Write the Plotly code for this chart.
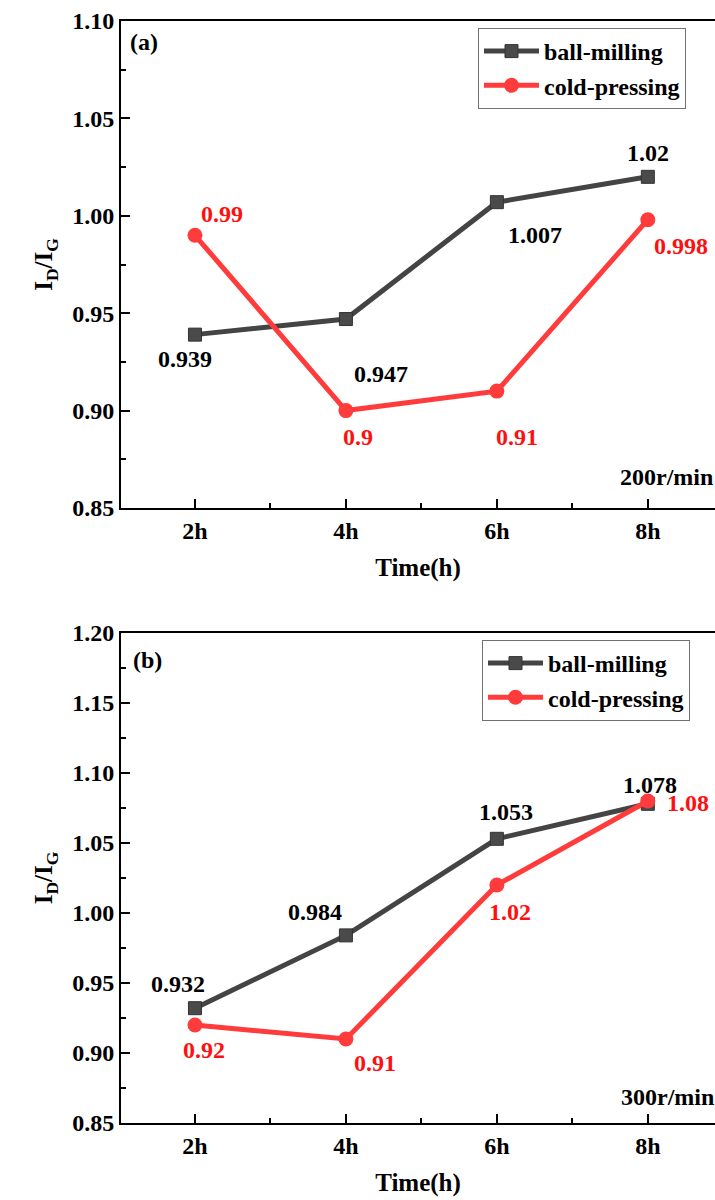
import plotly.graph_objects as go

# ---- data ----
time_vals = [2, 4, 6, 8]
time_labels = ["2h", "4h", "6h", "8h"]

a_ball = [0.939, 0.947, 1.007, 1.02]
a_cold = [0.99, 0.9, 0.91, 0.998]
b_ball = [0.932, 0.984, 1.053, 1.078]
b_cold = [0.92, 0.91, 1.02, 1.08]

series_names = ["ball-milling", "cold-pressing"]
panel_tags = ["(a)", "(b)"]
panel_speed = ["200r/min", "300r/min"]

# ---- style ----
FONT = "'Liberation Serif', 'Times New Roman', Times, serif"
GRAY = "#444444"
RED = "#ff3b3b"
LBL_RED = "#ff1010"
FS = 24

# label offsets (px, x right, y up) for each point
a_ball_off = [(-10, -24), (35, -55), (38, -33), (0, 24)]
a_cold_off = [(27, 21), (12, -26), (20, -46), (33, -26)]
b_ball_off = [(-17, 24), (-31, 23), (9, 27), (2, 19)]
b_cold_off = [(9, -25), (29, -24), (13, -27), (40, -2)]

W, H = 715, 1200
x_dom = [121 / W, 1.0]
top_dom = [1 - 508 / H, 1 - 21 / H]
bot_dom = [1 - 1123 / H, 1 - 633 / H]
x_range = [1.02, 8.89]

fig = go.Figure()

def add_series(xa, ya, legend, ball, cold):
    fig.add_trace(go.Scatter(
        x=time_vals, y=ball, name=series_names[0], xaxis=xa, yaxis=ya,
        legend=legend, mode="lines+markers",
        line=dict(color=GRAY, width=5),
        marker=dict(symbol="square", size=13, color="#4a4a4a",
                    line=dict(color="#333333", width=1)),
    ))
    fig.add_trace(go.Scatter(
        x=time_vals, y=cold, name=series_names[1], xaxis=xa, yaxis=ya,
        legend=legend, mode="lines+markers",
        line=dict(color=RED, width=5),
        marker=dict(symbol="circle", size=15, color=RED),
    ))

add_series("x", "y", "legend", a_ball, a_cold)
add_series("x2", "y2", "legend2", b_ball, b_cold)

def add_labels(xr, yr, vals, offs, color):
    for xv, v, (dx, dy) in zip(time_vals, vals, offs):
        fig.add_annotation(
            x=xv, y=v, xref=xr, yref=yr, text=str(v), showarrow=False,
            xshift=dx, yshift=dy,
            font=dict(family=FONT, size=FS, color=color, weight="bold"),
        )

add_labels("x", "y", a_ball, a_ball_off, "black")
add_labels("x", "y", a_cold, a_cold_off, LBL_RED)
add_labels("x2", "y2", b_ball, b_ball_off, "black")
add_labels("x2", "y2", b_cold, b_cold_off, LBL_RED)

tag_font = dict(family=FONT, size=FS, color="black", weight="bold")
fig.add_annotation(x=128 / W, y=1 - 42 / H, xref="paper", yref="paper",
                   text=panel_tags[0], showarrow=False, xanchor="left",
                   yanchor="middle", font=tag_font)
fig.add_annotation(x=131 / W, y=1 - 660 / H, xref="paper", yref="paper",
                   text=panel_tags[1], showarrow=False, xanchor="left",
                   yanchor="middle", font=tag_font)
fig.add_annotation(x=618 / W, y=1 - 477 / H, xref="paper", yref="paper",
                   text=panel_speed[0], showarrow=False, xanchor="left",
                   yanchor="middle", font=tag_font)
fig.add_annotation(x=619 / W, y=1 - 1097 / H, xref="paper", yref="paper",
                   text=panel_speed[1], showarrow=False, xanchor="left",
                   yanchor="middle", font=tag_font)

def xaxis_cfg(anchor):
    return dict(
        domain=x_dom, anchor=anchor, range=x_range,
        tickmode="array", tickvals=time_vals, ticktext=time_labels,
        ticks="inside", ticklen=9, tickwidth=2, tickcolor="black",
        minor=dict(tickvals=[3, 5, 7], ticks="inside", ticklen=5,
                   tickwidth=2, tickcolor="black"),
        showline=True, linecolor="black", linewidth=2, mirror=True,
        showgrid=False, zeroline=False,
        tickfont=dict(family=FONT, size=FS, color="black", weight="bold"),
        title=dict(text="Time(h)", standoff=16,
                   font=dict(family=FONT, size=FS + 1, color="black", weight="bold")),
        automargin=False,
    )

def yaxis_cfg(anchor, dom, rng):
    return dict(
        domain=dom, anchor=anchor, range=rng,
        dtick=0.05, tick0=0.85, tickformat=".2f",
        ticks="inside", ticklen=9, tickwidth=2, tickcolor="black",
        minor=dict(dtick=0.025, tick0=0.85, ticks="inside", ticklen=5,
                   tickwidth=2, tickcolor="black"),
        showline=True, linecolor="black", linewidth=2, mirror=False,
        showgrid=False, zeroline=False,
        tickfont=dict(family=FONT, size=FS, color="black", weight="bold"),
        title=dict(text="I<sub>D</sub>/I<sub>G</sub>", standoff=12,
                   font=dict(family=FONT, size=FS + 1, color="black", weight="bold")),
        automargin=False,
    )

leg_font = dict(family=FONT, size=FS, color="black", weight="bold")
fig.update_layout(
    width=W, height=H,
    margin=dict(l=0, r=0, t=0, b=0),
    paper_bgcolor="white", plot_bgcolor="white",
    font=dict(family=FONT),
    xaxis=xaxis_cfg("y"), yaxis=yaxis_cfg("x", top_dom, [0.85, 1.10]),
    xaxis2=xaxis_cfg("y2"), yaxis2=yaxis_cfg("x2", bot_dom, [0.85, 1.20]),
    legend=dict(x=478 / W, y=1 - 28 / H, xanchor="left", yanchor="top",
                bordercolor="#707070", borderwidth=1, bgcolor="white",
                font=leg_font, itemwidth=55, tracegroupgap=0),
    legend2=dict(x=482 / W, y=1 - 640 / H, xanchor="left", yanchor="top",
                 bordercolor="#707070", borderwidth=1, bgcolor="white",
                 font=leg_font, itemwidth=55, tracegroupgap=0),
    showlegend=True,
)

fig.write_html("out.html")
